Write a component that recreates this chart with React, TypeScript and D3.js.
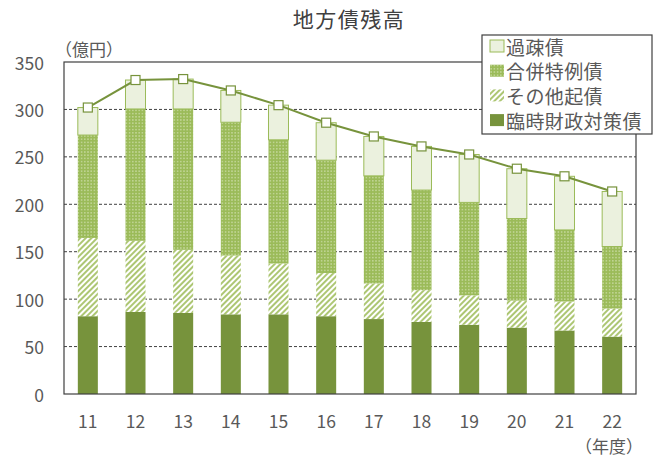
import * as d3 from "d3";

const years = ["11", "12", "13", "14", "15", "16", "17", "18", "19", "20", "21", "22"];
// 臨時財政対策債
const rinji = [82, 86.5, 85.5, 84, 84, 82, 79, 76, 73, 70, 67, 60.5];
// その他起債
const sonota = [82.5, 75, 66.5, 62, 53.5, 45.5, 37.5, 33.5, 31, 28.5, 30.5, 29.5];
// 合併特例債
const gappei = [108.5, 139, 148.5, 140.5, 130.5, 119, 113.5, 105.5, 98, 86.5, 75.5, 65.5];
// 過疎債
const kaso = [29, 30.5, 31.5, 33.5, 36.5, 39.5, 41.5, 46, 50.5, 52.5, 56.5, 58];
const yTicks = [0, 50, 100, 150, 200, 250, 300, 350];

const keys = ["rinji", "sonota", "gappei", "kaso"] as const;
const legendItems = [
  { key: "kaso", label: "過疎債" },
  { key: "gappei", label: "合併特例債" },
  { key: "sonota", label: "その他起債" },
  { key: "rinji", label: "臨時財政対策債" },
];

const width = 664;
const height = 457;
const margin = { top: 62, right: 28, bottom: 63, left: 64 };
const font = "'Noto Sans CJK JP', 'Noto Sans', sans-serif";
const textColor = "#595959";
const lineColor = "#77933C";

const fills: Record<string, string> = {
  rinji: "#77933C",
  sonota: "url(#hatch)",
  gappei: "url(#dots)",
  kaso: "#EBF1DE",
};

export default function App() {
  const rows = years.map((y, i) => ({
    year: y,
    rinji: rinji[i],
    sonota: sonota[i],
    gappei: gappei[i],
    kaso: kaso[i],
  }));
  const series = d3.stack<any>().keys(keys as any)(rows);

  const x = d3
    .scaleBand<string>()
    .domain(years)
    .range([margin.left, width - margin.right])
    .paddingInner(0.58)
    .paddingOuter(0.29);
  const y = d3
    .scaleLinear()
    .domain([0, 350])
    .range([height - margin.bottom, margin.top]);

  const totals = rows.map((r) => r.rinji + r.sonota + r.gappei + r.kaso);
  const line = d3
    .line<number>()
    .x((_, i) => (x(years[i]) ?? 0) + x.bandwidth() / 2)
    .y((d) => y(d));

  const plotW = width - margin.left - margin.right;

  return (
    <svg
      width={width}
      height={height}
      style={{ position: "absolute", left: 0, top: 0, background: "#fff" }}
      fontFamily={font}
    >
      <defs>
        <pattern id="dots" width="3.2" height="3.2" patternUnits="userSpaceOnUse">
          <rect width="3.2" height="3.2" fill="#9BBB59" />
          <circle cx="1.6" cy="1.6" r="0.6" fill="#F2F7E6" />
        </pattern>
        <pattern
          id="hatch"
          width="4"
          height="4"
          patternUnits="userSpaceOnUse"
          patternTransform="rotate(45)"
        >
          <rect width="4" height="4" fill="#fff" />
          <line x1="1" y1="0" x2="1" y2="4" stroke="#A9C46C" strokeWidth="1.9" />
        </pattern>
      </defs>

      <text
        x={349}
        y={18}
        textAnchor="middle"
        dominantBaseline="central"
        fontSize={21}
        letterSpacing={1.5}
        fill="#404040"
      >
        地方債残高
      </text>
      <text x={55} y={48} dominantBaseline="central" fontSize={17} fill={textColor}>
        （億円）
      </text>
      <text x={643} y={445} textAnchor="end" dominantBaseline="central" fontSize={17} fill={textColor}>
        （年度）
      </text>

      {yTicks
        .filter((t) => t > 0 && t < 350)
        .map((t) => (
          <line
            key={t}
            x1={margin.left}
            x2={width - margin.right}
            y1={y(t)}
            y2={y(t)}
            stroke="#404040"
            strokeDasharray="3,2"
            strokeWidth={1}
          />
        ))}

      {series.map((s) => (
        <g key={s.key}>
          {s.map((d, i) => (
            <rect
              key={i}
              x={x(years[i])}
              width={x.bandwidth()}
              y={y(d[1])}
              height={y(d[0]) - y(d[1])}
              fill={fills[s.key]}
              stroke={s.key === "kaso" ? "#9BBB59" : "none"}
              strokeWidth={1}
            />
          ))}
        </g>
      ))}

      <rect
        x={margin.left}
        y={margin.top}
        width={plotW}
        height={height - margin.top - margin.bottom}
        fill="none"
        stroke="#404040"
        strokeWidth={1.2}
      />

      {yTicks.map((t) => (
        <text
          key={t}
          x={44}
          y={y(t)}
          textAnchor="end"
          dominantBaseline="central"
          fontSize={17.5}
          fill={textColor}
        >
          {t}
        </text>
      ))}
      {years.map((yr) => (
        <text
          key={yr}
          x={(x(yr) ?? 0) + x.bandwidth() / 2}
          y={420}
          textAnchor="middle"
          dominantBaseline="central"
          fontSize={17.5}
          fill={textColor}
        >
          {yr}
        </text>
      ))}

      <path d={line(totals) ?? ""} fill="none" stroke={lineColor} strokeWidth={2} />
      {totals.map((t, i) => (
        <rect
          key={i}
          x={(x(years[i]) ?? 0) + x.bandwidth() / 2 - 4.5}
          y={y(t) - 4.5}
          width={9}
          height={9}
          fill="#fff"
          stroke={lineColor}
          strokeWidth={1.2}
        />
      ))}

      <g>
        <rect x={482} y={35} width={170} height={99} fill="#fff" stroke="#404040" strokeWidth={1.2} />
        {legendItems.map((it, i) => {
          const cy = 46 + i * 24.7;
          return (
            <g key={it.key}>
              <rect
                x={490}
                y={cy - 6}
                width={14}
                height={12}
                fill={fills[it.key]}
                stroke={it.key === "kaso" ? "#9BBB59" : "none"}
              />
              <text
                x={506}
                y={cy}
                dominantBaseline="central"
                fontSize={19}
                letterSpacing={0.4}
                fill={textColor}
              >
                {it.label}
              </text>
            </g>
          );
        })}
      </g>
    </svg>
  );
}
